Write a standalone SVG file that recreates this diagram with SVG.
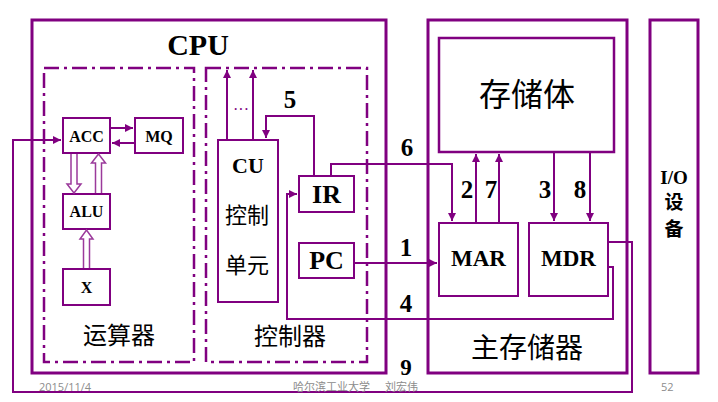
<svg xmlns="http://www.w3.org/2000/svg" width="718" height="402" viewBox="0 0 718 402">
<style>
.frame{fill:none;stroke:#800080;stroke-width:3}
.dash{fill:none;stroke:#800080;stroke-width:2.5;stroke-dasharray:15 5 3 5}
.box{fill:#fff;stroke:#800080;stroke-width:2}
.line{fill:none;stroke:#800080;stroke-width:2}
.arr{marker-end:url(#ah)}
.hollow{fill:#fff;stroke:#9b3a9b;stroke-width:1.5}
.en{font-family:"Liberation Serif",serif;font-weight:bold;fill:#000;text-anchor:middle}
.cn{font-family:"Noto Sans CJK SC","Noto Sans CJK JP",sans-serif;fill:#000;text-anchor:middle}
.foot{font-family:"Open Sans","Noto Sans CJK SC",sans-serif;fill:#8c8c8c;font-size:11px}
</style>
<defs>
<marker id="ah" markerUnits="userSpaceOnUse" markerWidth="9" markerHeight="8" refX="8" refY="4" orient="auto">
<path d="M0,0 L8,4 L0,8 z" fill="#800080"/>
</marker>
</defs>

<g id="connectors">
<path class="line arr" d="M608,242 H632 V392 H13 V140 H61"/>
<path class="line arr" d="M608,267 H613 V319 H287 V194 H297"/>
<path class="line arr" d="M354,263 H437"/>
<path class="line arr" d="M331,176 V164 H452 V221"/>
<path class="line arr" d="M314,176 V116 H266 V138"/>
<path class="line arr" d="M227,140 V70"/>
<path class="line arr" d="M253,140 V70"/>
<path class="line arr" d="M476,223 V154"/>
<path class="line arr" d="M499,223 V154"/>
<path class="line arr" d="M554,152 V221"/>
<path class="line arr" d="M590,152 V221"/>
<path class="line arr" d="M110,128 H133"/>
<path class="line arr" d="M135,143 H112"/>
</g>

<g id="cpu">
<rect class="frame" x="32" y="20" width="354" height="353"/>
<text class="en" x="198" y="55" font-size="30">CPU</text>
</g>

<g id="alu-unit">
<rect class="dash" x="44" y="68" width="150" height="294"/>
<text class="cn" x="119" y="344" font-size="24">运算器</text>
</g>

<g id="ctrl-unit">
<rect class="dash" x="206" y="68" width="161" height="294"/>
<text class="cn" x="290" y="345" font-size="24">控制器</text>
</g>

<g id="main-memory">
<rect class="frame" x="428" y="20" width="199" height="353"/>
<text class="cn" x="527" y="358" font-size="28">主存储器</text>
</g>

<g id="storage">
<rect class="box" x="439" y="38" width="175" height="114" style="stroke-width:2.5"/>
<text class="cn" x="527" y="106" font-size="32">存储体</text>
</g>

<g id="io">
<rect class="frame" x="650" y="20" width="48" height="353"/>
<text class="en" x="674" y="184" font-size="19">I/O</text>
<text class="cn" x="674" y="209" font-size="19" font-weight="bold">设</text>
<text class="cn" x="674" y="236" font-size="19" font-weight="bold">备</text>
</g>

<g id="acc">
<rect class="box" x="63" y="118" width="47" height="35"/>
<text class="en" x="86.5" y="142" font-size="16">ACC</text>
</g>

<g id="mq">
<rect class="box" x="135" y="118" width="48" height="35"/>
<text class="en" x="159" y="142" font-size="16">MQ</text>
</g>

<g id="alu">
<rect class="box" x="63" y="194" width="47" height="35"/>
<text class="en" x="86.5" y="217" font-size="16">ALU</text>
</g>

<g id="x">
<rect class="box" x="63" y="269" width="47" height="36"/>
<text class="en" x="86.5" y="293" font-size="16">X</text>
</g>

<g id="hollow-arrows">
<path class="hollow" d="M71,154 L71,184 L67,184 L74,193 L81,184 L77,184 L77,154"/>
<path class="hollow" d="M95.5,193 L95.5,163 L91.5,163 L98.5,154 L105.5,163 L101.5,163 L101.5,193"/>
<path class="hollow" d="M83.5,268 L83.5,239 L80,239 L86.5,230 L93,239 L89.5,239 L89.5,268"/>
</g>

<g id="cu">
<rect class="box" x="218" y="140" width="60" height="162"/>
<text class="en" x="248" y="173" font-size="22">CU</text>
<text class="cn" x="247" y="223" font-size="22">控制</text>
<text class="cn" x="247" y="273" font-size="22">单元</text>
<text x="241" y="115" font-family="Liberation Serif,serif" font-size="16" fill="#800080" text-anchor="middle">···</text>
</g>

<g id="ir">
<rect class="box" x="299" y="176" width="55" height="36"/>
<text class="en" x="326.5" y="203" font-size="26">IR</text>
</g>

<g id="pc">
<rect class="box" x="299" y="243" width="55" height="35"/>
<text class="en" x="326.5" y="269" font-size="26">PC</text>
</g>

<g id="mar">
<rect class="box" x="439" y="223" width="79" height="73"/>
<text class="en" x="478.5" y="266" font-size="23">MAR</text>
</g>

<g id="mdr">
<rect class="box" x="529" y="223" width="79" height="73"/>
<text class="en" x="568.5" y="266" font-size="23">MDR</text>
</g>

<g id="labels">
<text class="en" x="290" y="108" font-size="25">5</text>
<text class="en" x="407" y="156" font-size="25">6</text>
<text class="en" x="406" y="256" font-size="25">1</text>
<text class="en" x="406" y="312" font-size="25">4</text>
<text class="en" x="406" y="375" font-size="23">9</text>
<text class="en" x="467" y="198" font-size="25">2</text>
<text class="en" x="491" y="198" font-size="25">7</text>
<text class="en" x="545" y="198" font-size="25">3</text>
<text class="en" x="580" y="198" font-size="25">8</text>
</g>

<g id="footer">
<text class="foot" x="39" y="391">2015/11/4</text>
<text class="foot" x="293" y="391">哈尔滨工业大学</text>
<text class="foot" x="385" y="391">刘宏伟</text>
<text class="foot" x="661" y="391">52</text>
</g>
</svg>
